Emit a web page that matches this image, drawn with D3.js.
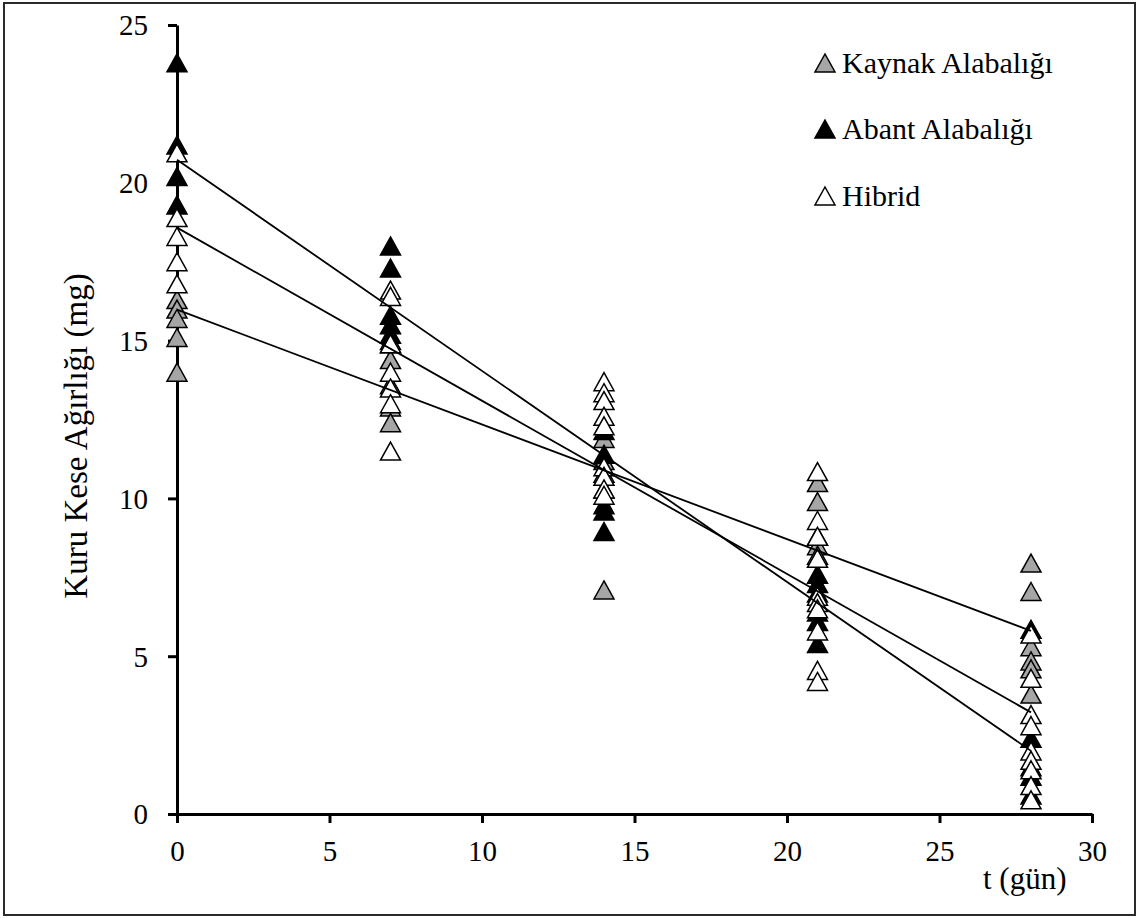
<!DOCTYPE html>
<html>
<head>
<meta charset="utf-8">
<script src="https://cdn.jsdelivr.net/npm/d3@7"></script>
<style>
  html, body { margin: 0; padding: 0; background: #fff; }
  svg { display: block; }
  text { font-family: "Liberation Serif", "Times New Roman", serif; fill: #000; }
</style>
</head>
<body>
<script>
// Sampling days (x) and dry sac weight (mg) per fish group, one inner list per day
const days = [0, 7, 14, 21, 28];
const seriesNames = ["Kaynak Alabalığı", "Abant Alabalığı", "Hibrid"];
const seriesFills = ["#a6a6a6", "#000000", "#ffffff"];

const kaynak = [
  [16.3, 16.0, 15.7, 15.1, 14.0],
  [15.0, 14.4, 13.6, 12.9, 12.4],
  [11.9, 11.2, 10.8, 10.3, 7.1],
  [10.5, 9.9, 8.8, 8.5, 8.2],
  [7.95, 7.05, 5.3, 4.85, 4.6, 3.8]
];
const abant = [
  [23.8, 21.2, 20.2, 19.3],
  [18.0, 17.3, 15.8, 15.5, 15.2, 14.9],
  [12.15, 11.4, 9.8, 9.6, 8.95],
  [7.6, 7.3, 7.0, 6.4, 6.1, 5.4],
  [5.85, 2.4, 1.5, 1.2, 0.6]
];
const hibrid = [
  [20.95, 18.9, 18.3, 17.5, 16.8],
  [16.6, 16.4, 14.9, 14.0, 13.5, 13.0, 11.5],
  [13.7, 13.35, 13.1, 12.6, 12.3, 11.0, 10.7, 10.3, 10.1],
  [10.85, 9.3, 8.8, 8.1, 6.9, 6.7, 6.5, 5.8, 4.55, 4.2],
  [5.7, 4.3, 3.15, 2.8, 2.0, 1.7, 1.4, 0.9, 0.45]
];

// Linear trend lines (day 0 and day 28 values) for Kaynak, Abant, Hibrid
const trendStart = [15.98, 20.73, 18.58];
const trendEnd = [5.8, 2.0, 3.22];

const xTicks = [0, 5, 10, 15, 20, 25, 30];
const yTicks = [0, 5, 10, 15, 20, 25];

const W = 1140, H = 918;
const svg = d3.select("body").append("svg").attr("width", W).attr("height", H);

// outer frame
svg.append("rect")
  .attr("x", 4).attr("y", 3).attr("width", 1131).attr("height", 912)
  .attr("fill", "#fff").attr("stroke", "#2a2a2a").attr("stroke-width", 2);

const x = d3.scaleLinear().domain([0, 30]).range([177, 1092]);
const y = d3.scaleLinear().domain([0, 25]).range([814, 25]);

// axes
const xAxis = svg.append("g").attr("transform", `translate(0,${y(0)})`)
  .call(d3.axisBottom(x).tickValues(xTicks).tickSize(9).tickPadding(17).tickSizeOuter(0));
const yAxis = svg.append("g").attr("transform", `translate(${x(0)},0)`)
  .call(d3.axisLeft(y).tickValues(yTicks).tickSize(9).tickPadding(20).tickSizeOuter(0));

[xAxis, yAxis].forEach(g => {
  g.select(".domain").attr("stroke", "#000").attr("stroke-width", 3);
  g.selectAll(".tick line").attr("stroke", "#000").attr("stroke-width", 3);
  g.selectAll(".tick text").attr("font-family", "Liberation Serif").attr("font-size", 29).attr("fill", "#000");
});
xAxis.selectAll(".tick text").attr("dy", "0.71em");
yAxis.selectAll(".tick text").attr("dy", "0.34em");

// axis titles
svg.append("text")
  .attr("transform", `translate(87,436) rotate(-90)`)
  .attr("text-anchor", "middle")
  .attr("font-size", 33)
  .text("Kuru Kese Ağırlığı (mg)");

svg.append("text")
  .attr("x", 983).attr("y", 889)
  .attr("font-size", 31)
  .text("t (gün)");

// triangle marker centred on the point
const triW = 20, triH = 18;
const triPath = `M0,${-triH / 2}L${triW / 2},${triH / 2}L${-triW / 2},${triH / 2}Z`;

// markers: Kaynak first, then Abant, then Hibrid on top
const allSeries = [kaynak, abant, hibrid];
allSeries.forEach((series, si) => {
  const pts = [];
  series.forEach((vals, di) => vals.forEach(v => pts.push({ d: days[di], v })));
  svg.append("g").selectAll("path")
    .data(pts).join("path")
    .attr("d", triPath)
    .attr("transform", p => `translate(${x(p.d)},${y(p.v)})`)
    .attr("fill", seriesFills[si])
    .attr("stroke", "#000")
    .attr("stroke-width", 1.5)
    .attr("stroke-linejoin", "miter");
});

// trend lines
const line = d3.line().x(p => x(p[0])).y(p => y(p[1]));
trendStart.forEach((s, i) => {
  svg.append("path")
    .attr("d", line([[days[0], s], [days[days.length - 1], trendEnd[i]]]))
    .attr("fill", "none").attr("stroke", "#000").attr("stroke-width", 1.8);
});

// legend
const legendRows = [63, 129, 196];
seriesNames.forEach((name, i) => {
  const g = svg.append("g").attr("transform", `translate(825,${legendRows[i]})`);
  g.append("path").attr("d", triPath)
    .attr("fill", seriesFills[i]).attr("stroke", "#000").attr("stroke-width", 1.5);
  g.append("text").attr("x", 17).attr("y", 9.5)
    .attr("font-size", 30).text(name);
});
</script>
</body>
</html>
